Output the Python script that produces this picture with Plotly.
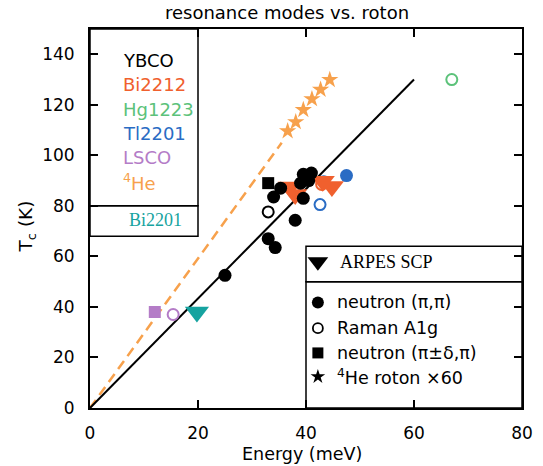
import plotly.graph_objects as go

# ---- data (Energy in meV, Tc in K) ----
ybco_neutron_E = [25.0, 33.0, 34.3, 34.0, 35.3, 38.0, 39.5, 39.0, 39.5, 41.0, 40.5]
ybco_neutron_T = [52.5, 67.0, 63.5, 83.5, 87.0, 74.3, 83.0, 89.0, 92.5, 93.0, 90.0]
ybco_raman_E = [33.0]
ybco_raman_T = [77.6]
ybco_square_E = [33.0]
ybco_square_T = [89.0]

bi2212_arpes_E = [37.0, 38.0, 43.1, 44.8]
bi2212_arpes_T = [87.5, 84.5, 89.7, 87.7]
bi2212_raman_E = [42.9]
bi2212_raman_T = [88.5]

hg1223_raman_E = [67.0]
hg1223_raman_T = [130.0]

tl2201_neutron_E = [47.5]
tl2201_neutron_T = [92.0]
tl2201_raman_E = [42.6, 43.3]
tl2201_raman_T = [80.5, 89.5]

lsco_square_E = [12.0]
lsco_square_T = [38.0]
lsco_raman_E = [15.4]
lsco_raman_T = [37.0]

bi2201_arpes_E = [19.8]
bi2201_arpes_T = [38.0]

he4_roton_E = [36.6, 38.1, 39.5, 41.1, 42.7, 44.4]
he4_roton_T = [109.6, 113.2, 118.0, 122.3, 126.0, 129.9]

cuprate_line_E = [0, 60]
cuprate_line_T = [0, 130]
he4_line_E = [0, 35.5]
he4_line_T = [0, 105]

x_ticks = [0, 20, 40, 60, 80]
y_ticks = [0, 20, 40, 60, 80, 100, 120, 140]

BLACK = "#000000"
C_BI2212 = "#f0602e"
C_HG = "#5cc27a"
C_TL = "#2a6cc4"
C_LSCO = "#b47cc7"
C_HE = "#f7a14c"
C_BI2201 = "#16a3a0"

FONT = "DejaVu Sans"
SERIF = "Liberation Serif"

fig = go.Figure()

def add(x, y, symbol, color, size, lw=0, line_color=None):
    fig.add_trace(go.Scatter(
        x=x, y=y, mode="markers",
        marker=dict(symbol=symbol, color=color, size=size,
                    line=dict(width=lw, color=line_color or color)),
        showlegend=False, hoverinfo="skip"))

# reference lines
fig.add_trace(go.Scatter(x=he4_line_E, y=he4_line_T, mode="lines",
                         line=dict(color=C_HE, width=2.5, dash="10px,6px"),
                         showlegend=False, hoverinfo="skip"))
fig.add_trace(go.Scatter(x=cuprate_line_E, y=cuprate_line_T, mode="lines",
                         line=dict(color=BLACK, width=2),
                         showlegend=False, hoverinfo="skip"))

# markers
add(he4_roton_E, he4_roton_T, "star", C_HE, 13)
add(ybco_raman_E, ybco_raman_T, "circle-open", BLACK, 11, 2)
add(tl2201_raman_E, tl2201_raman_T, "circle-open", C_TL, 11, 2)
add(bi2212_raman_E, bi2212_raman_T, "circle-open", C_BI2212, 11, 2)
add(hg1223_raman_E, hg1223_raman_T, "circle-open", C_HG, 11, 2)
add(lsco_raman_E, lsco_raman_T, "circle-open", C_LSCO, 11, 2)
add(lsco_square_E, lsco_square_T, "square", C_LSCO, 12)
add(ybco_square_E, ybco_square_T, "square", BLACK, 12)
add(bi2212_arpes_E, bi2212_arpes_T, "triangle-down", C_BI2212, 21)
add(ybco_neutron_E, ybco_neutron_T, "circle", BLACK, 13)
add(tl2201_neutron_E, tl2201_neutron_T, "circle", C_TL, 13)
add(bi2201_arpes_E, bi2201_arpes_T, "triangle-down", C_BI2201, 21)

# key markers (lower right box)
add([42.2], [57.9], "triangle-down", BLACK, 18)
add([42.2], [41.8], "circle", BLACK, 12)
add([42.2], [31.6], "circle-open", BLACK, 10, 1.8)
add([42.2], [21.8], "square", BLACK, 11)
add([42.2], [12.4], "star", BLACK, 11)

shapes = []
box_line = dict(color=BLACK, width=1.5)
for x0, x1, y0, y1 in [(0, 20, 80, 150), (0, 20, 68, 80), (40, 80, 50, 64), (40, 80, 0, 50)]:
    shapes.append(dict(type="rect", xref="x", yref="y", x0=x0, x1=x1, y0=y0, y1=y1,
                       line=box_line, fillcolor="rgba(0,0,0,0)", layer="above"))

annotations = []
def label(x, y, text, color, font=FONT, size=18, anchor="left"):
    annotations.append(dict(x=x, y=y, xref="x", yref="y", text=text, showarrow=False,
                            xanchor=anchor, yanchor="middle",
                            font=dict(family=font, size=size, color=color)))

compounds = [("YBCO", BLACK), ("Bi2212", C_BI2212), ("Hg1223", C_HG),
             ("Tl2201", C_TL), ("LSCO", C_LSCO), ("<sup>4</sup>He", C_HE)]
for i, (name, col) in enumerate(compounds):
    label(5.7, 137.5 - 9.6 * i, name, col)
label(12.2, 74.5, "Bi2201", C_BI2201, font=SERIF, size=18, anchor="center")
label(46.0, 57.9, "ARPES SCP", BLACK, font=SERIF, size=18)
key = ["neutron (π,π)", "Raman A1g", "neutron (π±δ,π)", "<sup>4</sup>He roton ×60"]
for text, y in zip(key, [41.8, 31.6, 21.8, 12.4]):
    label(45.3, y, text, BLACK, size=17.5)

# axis titles placed in paper coordinates
annotations.append(dict(x=0.49, y=-58 / 379, xref="paper", yref="paper",
                        text="Energy (meV)", showarrow=False,
                        xanchor="center", yanchor="bottom",
                        font=dict(family=FONT, size=17.5, color=BLACK)))
annotations.append(dict(x=-0.145, y=0.48, xref="paper", yref="paper",
                        text="T<sub>c</sub> (K)", showarrow=False, textangle=-90,
                        xanchor="center", yanchor="middle",
                        font=dict(family=FONT, size=18.5, color=BLACK)))

axis_common = dict(showline=True, linecolor=BLACK, linewidth=1.8, mirror="ticks",
                   ticks="inside", ticklen=8, tickwidth=1.8, tickcolor=BLACK,
                   showgrid=False, zeroline=False, automargin=False,
                   tickfont=dict(family=FONT, size=17, color=BLACK))

fig.update_layout(
    width=543, height=466,
    margin=dict(l=90, r=21, t=29, b=58),
    paper_bgcolor="white", plot_bgcolor="white",
    title=dict(text="resonance modes vs. roton", x=287 / 543, xanchor="center",
               y=1 - 13 / 466, yanchor="middle", xref="container",
               font=dict(family=FONT, size=18, color=BLACK)),
    xaxis=dict(range=[0, 80], tickvals=x_ticks, ticklabelstandoff=9, **axis_common),
    yaxis=dict(range=[0, 150], tickvals=y_ticks, ticklabelstandoff=10, **axis_common),
    shapes=shapes,
    annotations=annotations,
)

fig.write_html("out.html")
